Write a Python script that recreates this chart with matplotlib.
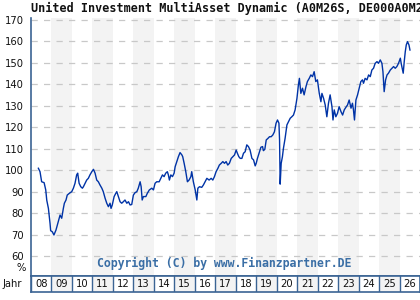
"""Fund price chart: United Investment MultiAsset Dynamic (Finanzpartner style)."""

import matplotlib

matplotlib.use("Agg")
import matplotlib.pyplot as plt

TITLE = "United Investment MultiAsset Dynamic (A0M26S, DE000A0M26S)"
COPYRIGHT = "Copyright (C) by www.Finanzpartner.DE"

# decimal years and indexed price (%)
dates = [
    2008.36, 2008.44, 2008.52, 2008.64, 2008.72, 2008.77, 2008.85, 2008.93, 2008.96, 2009.04,
    2009.12, 2009.22, 2009.33, 2009.42, 2009.50, 2009.58, 2009.63, 2009.71, 2009.77, 2009.87,
    2009.99, 2010.07, 2010.15, 2010.23, 2010.28, 2010.35, 2010.43, 2010.51, 2010.56, 2010.64,
    2010.72, 2010.80, 2010.88, 2010.97, 2011.05, 2011.13, 2011.21, 2011.29, 2011.37, 2011.46,
    2011.53, 2011.62, 2011.70, 2011.78, 2011.86, 2011.91, 2011.97, 2012.06, 2012.14, 2012.19,
    2012.27, 2012.35, 2012.43, 2012.51, 2012.59, 2012.68, 2012.76, 2012.84, 2012.92, 2013.00,
    2013.08, 2013.17, 2013.24, 2013.33, 2013.38, 2013.43, 2013.49, 2013.61, 2013.68, 2013.78,
    2013.90, 2013.98, 2014.06, 2014.14, 2014.26, 2014.34, 2014.42, 2014.50, 2014.58, 2014.66,
    2014.71, 2014.76, 2014.83, 2014.91, 2014.99, 2015.04, 2015.12, 2015.20, 2015.28, 2015.37,
    2015.41, 2015.48, 2015.56, 2015.64, 2015.72, 2015.81, 2015.85, 2015.93, 2016.02, 2016.10,
    2016.15, 2016.23, 2016.34, 2016.42, 2016.50, 2016.59, 2016.70, 2016.80, 2016.88, 2016.96,
    2017.04, 2017.13, 2017.20, 2017.29, 2017.37, 2017.45, 2017.53, 2017.61, 2017.69, 2017.78,
    2017.86, 2017.94, 2018.02, 2018.08, 2018.15, 2018.22, 2018.30, 2018.38, 2018.46, 2018.54,
    2018.62, 2018.70, 2018.79, 2018.87, 2018.95, 2019.00, 2019.06, 2019.14, 2019.23, 2019.31,
    2019.35, 2019.42, 2019.49, 2019.57, 2019.65, 2019.73, 2019.81, 2019.89, 2019.97, 2020.04,
    2020.11, 2020.14, 2020.17, 2020.22, 2020.28, 2020.33, 2020.41, 2020.50, 2020.58, 2020.66,
    2020.74, 2020.82, 2020.90, 2020.99, 2021.06, 2021.11, 2021.18, 2021.26, 2021.34, 2021.43,
    2021.50, 2021.59, 2021.67, 2021.75, 2021.83, 2021.91, 2021.99, 2022.08, 2022.16, 2022.21,
    2022.29, 2022.37, 2022.45, 2022.53, 2022.61, 2022.70, 2022.75, 2022.81, 2022.89, 2022.97,
    2023.05, 2023.14, 2023.22, 2023.30, 2023.38, 2023.46, 2023.54, 2023.63, 2023.70, 2023.75,
    2023.80, 2023.87, 2023.95, 2024.03, 2024.11, 2024.19, 2024.24, 2024.32, 2024.41, 2024.49,
    2024.57, 2024.65, 2024.73, 2024.81, 2024.90, 2024.97, 2025.06, 2025.14, 2025.19, 2025.25,
    2025.32, 2025.39, 2025.46, 2025.55, 2025.63, 2025.71, 2025.79, 2025.87, 2025.95, 2026.04,
    2026.08, 2026.13, 2026.18, 2026.23, 2026.28, 2026.33, 2026.39, 2026.46, 2026.51,
]
prices = [
    100.9, 99.3, 94.6, 94.2, 90.8, 86.0, 82.2, 75.2, 71.8, 71.3,
    69.8, 72.1, 76.0, 79.1, 77.6, 82.2, 84.6, 86.1, 88.4, 89.2,
    90.0, 91.6, 93.9, 97.8, 98.6, 93.9, 92.3, 91.6, 92.3, 93.9,
    95.4, 96.2, 97.8, 99.3, 100.4, 98.6, 95.4, 94.6, 93.1, 91.6,
    90.0, 86.9, 84.6, 83.0, 84.6, 82.2, 83.8, 87.7, 89.2, 90.0,
    87.7, 85.3, 84.6, 85.3, 86.1, 84.6, 85.3, 83.8, 84.0, 88.4,
    89.5, 90.0, 91.6, 94.6, 92.3, 86.1, 87.7, 87.7, 89.2, 90.8,
    91.6, 90.8, 93.9, 94.6, 94.6, 96.2, 97.8, 97.0, 98.6, 99.3,
    97.8, 95.4, 97.8, 97.0, 98.6, 101.6, 104.0, 106.3, 108.2, 107.1,
    106.3, 103.2, 99.3, 94.6, 95.4, 97.0, 99.3, 94.6, 90.8, 86.1,
    91.6, 92.3, 92.0, 93.1, 94.6, 96.2, 95.4, 96.2, 95.4, 97.0,
    99.3, 100.9, 102.4, 103.2, 104.0, 103.2, 104.0, 102.4, 103.2, 105.5,
    106.3, 107.1, 109.4, 107.9, 106.3, 105.5, 105.5, 107.9, 108.6, 111.8,
    111.0, 109.4, 105.5, 104.8, 102.0, 103.2, 105.5, 107.9, 110.7, 111.0,
    109.1, 109.7, 114.1, 114.8, 115.6, 115.6, 116.4, 117.9, 121.9, 123.4,
    121.9, 114.1, 93.5, 103.2, 106.3, 110.2, 114.8, 121.1, 122.6, 124.2,
    124.9, 125.7, 128.1, 133.5, 139.7, 142.8, 135.8, 138.2, 135.1, 138.9,
    141.3, 142.8, 144.4, 143.6, 145.9, 141.3, 142.1, 135.8, 131.9, 135.8,
    133.5, 130.4, 124.9, 131.2, 135.1, 129.6, 123.4, 128.1, 124.9, 126.5,
    129.6, 127.3, 125.7, 128.1, 129.3, 130.4, 132.7, 128.9, 131.2, 128.1,
    123.4, 132.7, 135.1, 138.2, 141.3, 142.1, 140.5, 142.8, 142.1, 144.4,
    143.6, 146.7, 147.5, 149.8, 150.6, 149.8, 151.4, 149.8, 145.9, 136.6,
    142.1, 144.4, 145.2, 146.7, 147.5, 148.3, 147.5, 148.3, 149.8, 152.2,
    149.8, 147.5, 145.2, 150.6, 155.2, 158.4, 159.9, 158.4, 156.0,
]
years = list(range(2008, 2027))
y_ticks = list(range(60, 171, 10))

FRAME = "#3b6494"
LINE = "#0033a6"
SHADE = "#f3f3f3"
GRID = "#c8c8c8"
W, H = 420, 300

fig = plt.figure(figsize=(4.2, 3.0), dpi=100)
fig.patch.set_facecolor("white")

# main price panel
ax = fig.add_axes([31 / W, 24 / H, 389 / W, 258 / H])
for yr in years:
    if yr % 2 == 1:
        ax.axvspan(yr, yr + 1, color=SHADE, lw=0, zorder=0)
ax.set_xlim(2008, 2027)
ax.set_ylim(50.68, 170.93)
ax.set_yticks(y_ticks)
ax.set_xticks([])
ax.yaxis.grid(True, ls=(0, (5, 5)), color=GRID, lw=0.9)
ax.set_axisbelow(True)
ax.tick_params(axis="y", length=0, pad=5, labelsize=7.2, labelcolor="#111111")
ax.plot(dates, prices, color=LINE, lw=1.0, zorder=3)
for side in ("left", "bottom"):
    ax.spines[side].set_color(FRAME)
    ax.spines[side].set_linewidth(1.2)
ax.spines["right"].set_visible(False)
ax.spines["top"].set_visible(False)

ax.text(0.497, (62 - 50.68) / (170.93 - 50.68) - 0.045, COPYRIGHT,
        transform=ax.transAxes, ha="center", va="center",
        family="DejaVu Sans Mono", weight="bold", fontsize=8.3, color="#3a6ea5")

# year band
band = fig.add_axes([31 / W, 8 / H, 389 / W, 16 / H])
band.set_xlim(2008, 2027)
band.set_ylim(0, 1)
band.set_xticks([])
band.set_yticks([])
for yr in years:
    if yr % 2 == 1:
        band.axvspan(yr, yr + 1, color=SHADE, lw=0, zorder=0)
    band.axvline(yr, color=FRAME, lw=1.0)
    band.text(yr + 0.5, 0.47, f"{yr % 100:02d}", ha="center", va="center",
              fontsize=7.2, color="#111111")
for side in band.spines.values():
    side.set_color(FRAME)
    side.set_linewidth(1.2)

fig.text(31 / W, 1 - 8 / H, TITLE, ha="left", va="center",
         family="DejaVu Sans Mono", weight="bold", fontsize=8.45, color="#111111")
fig.text(21 / W, 1 - 268 / H, "%", ha="center", va="center", fontsize=7.2, color="#111111")
fig.text(12.5 / W, 1 - 284 / H, "Jahr", ha="center", va="center", fontsize=7.2, color="#111111")

fig.savefig("out.png", dpi=100)
